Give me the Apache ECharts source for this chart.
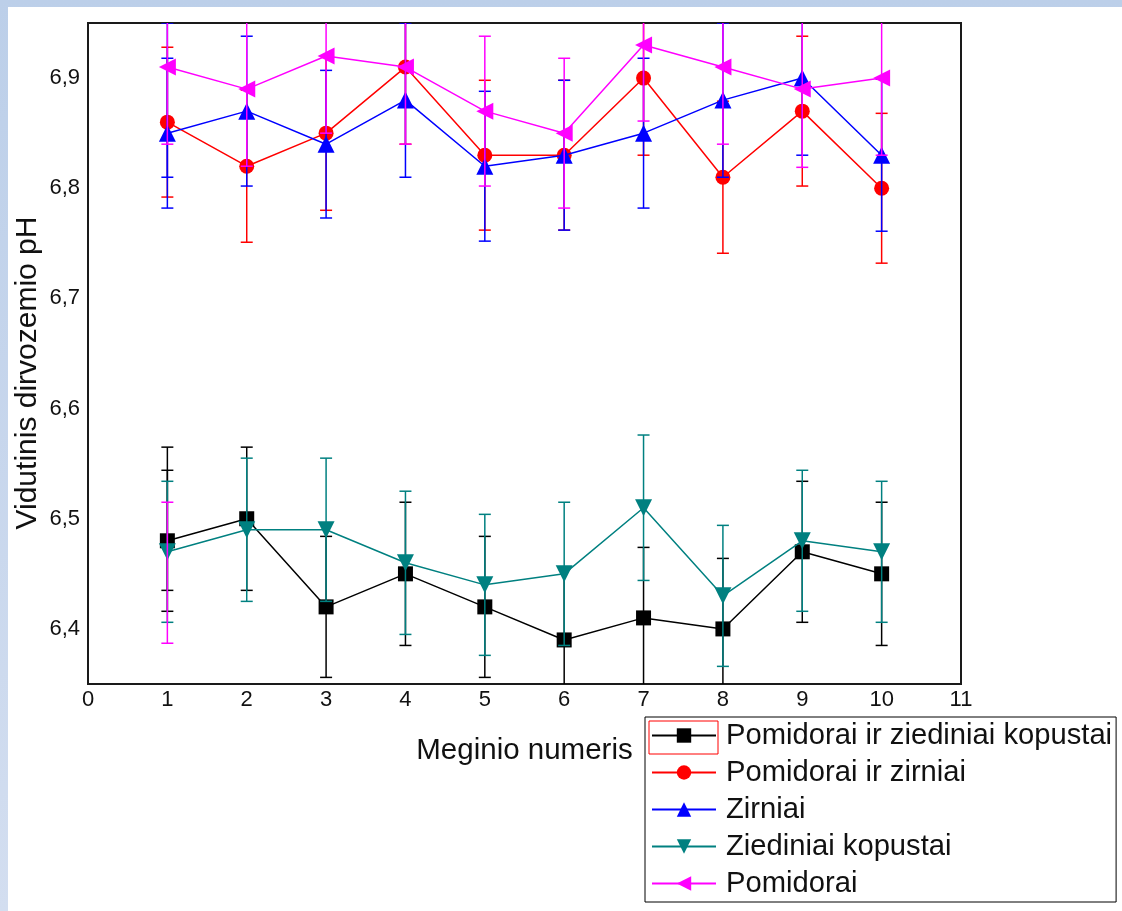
<!DOCTYPE html>
<html>
<head>
<meta charset="utf-8">
<script src="https://cdn.jsdelivr.net/npm/echarts@6/dist/echarts.min.js"></script>
<style>
  html, body { margin: 0; padding: 0; width: 1122px; height: 911px; overflow: hidden;
    background: linear-gradient(to bottom, #bccfe9 0%, #d3def0 100%); }
  #panel { position: absolute; left: 8px; top: 7px; width: 1114px; height: 904px; background: #ffffff; }
  #chart { position: absolute; left: 0; top: 0; width: 1122px; height: 911px; }
</style>
</head>
<body>
<div id="panel"></div>
<div id="chart"></div>
<script>
// ---- data ----
const sampleNumbers = [1, 2, 3, 4, 5, 6, 7, 8, 9, 10];
const xTickLabels = ['0', '1', '2', '3', '4', '5', '6', '7', '8', '9', '10', '11'];
const yTickValues = [6.4, 6.5, 6.6, 6.7, 6.8, 6.9];

const seriesNames = ['Pomidorai ir ziediniai kopustai', 'Pomidorai ir zirniai', 'Zirniai', 'Ziediniai kopustai', 'Pomidorai'];

const pomZiedKop = [6.48, 6.50, 6.42, 6.45, 6.42, 6.39, 6.41, 6.40, 6.47, 6.45];
const pomZiedKopErr = [0.064, 0.065, 0.064, 0.065, 0.064, 0.064, 0.064, 0.064, 0.064, 0.065];

const pomZirn = [6.86, 6.82, 6.85, 6.91, 6.83, 6.83, 6.90, 6.81, 6.87, 6.80];
const pomZirnErr = [0.068, 0.069, 0.070, 0.070, 0.068, 0.068, 0.070, 0.069, 0.068, 0.068];

const zirn = [6.85, 6.87, 6.84, 6.88, 6.82, 6.83, 6.85, 6.88, 6.90, 6.83];
const zirnErr = [0.068, 0.068, 0.067, 0.070, 0.068, 0.068, 0.068, 0.070, 0.070, 0.069];

const ziedKop = [6.47, 6.49, 6.49, 6.46, 6.44, 6.45, 6.51, 6.43, 6.48, 6.47];
const ziedKopErr = [0.064, 0.065, 0.065, 0.065, 0.064, 0.065, 0.066, 0.064, 0.064, 0.064];

const pom = [6.91, 6.89, 6.92, 6.91, 6.87, 6.85, 6.93, 6.91, 6.89, 6.90];
const pomErr = [0.070, 0.070, 0.070, 0.070, 0.068, 0.068, 0.069, 0.070, 0.071, 0.070];

// extra (detached) error bars visible at sample 1: [x, low, high]
const pomZiedKopExtraBars = [[1, 6.435, 6.565]];
const zirnExtraBars = [[1, 6.81, 6.95]];
const pomExtraBars = [[1, 6.387, 6.515]];

// ---- chart ----
const FONT = '"Liberation Sans", Arial, sans-serif';
const colors = ['#000000', '#ff0000', '#0000ff', '#008080', '#ff00ff'];
const symbols = ['rect', 'circle', 'triangle', 'triangle', 'triangle'];
const symbolRot = [0, 0, 0, 180, 90];
const symbolSizes = [15, 15, 17, 17, 17];
const values = [pomZiedKop, pomZirn, zirn, ziedKop, pom];
const errs = [pomZiedKopErr, pomZirnErr, zirnErr, ziedKopErr, pomErr];
const extras = [pomZiedKopExtraBars, [], zirnExtraBars, [], pomExtraBars];

function errBarData(vals, e, extra) {
  const d = sampleNumbers.map((x, i) => [x, vals[i] - e[i], vals[i] + e[i]]);
  return d.concat(extra);
}

function renderErr(color) {
  return function (params, api) {
    const x = api.value(0);
    const lo = api.coord([x, api.value(1)]);
    const hi = api.coord([x, api.value(2)]);
    const cw = 6;
    const style = { stroke: color, lineWidth: 1.5 };
    return {
      type: 'group',
      children: [
        { type: 'line', shape: { x1: lo[0], y1: lo[1], x2: hi[0], y2: hi[1] }, style },
        { type: 'line', shape: { x1: lo[0] - cw, y1: lo[1], x2: lo[0] + cw, y2: lo[1] }, style },
        { type: 'line', shape: { x1: hi[0] - cw, y1: hi[1], x2: hi[0] + cw, y2: hi[1] }, style }
      ]
    };
  };
}

const series = [];
for (let k = 0; k < 5; k++) {
  series.push({
    name: seriesNames[k] + ' err',
    type: 'custom',
    clip: true,
    renderItem: renderErr(colors[k]),
    encode: { x: 0, y: [1, 2] },
    data: errBarData(values[k], errs[k], extras[k]),
    z: 2 + k * 2,
    silent: true
  });
  series.push({
    name: seriesNames[k],
    type: 'line',
    data: sampleNumbers.map((x, i) => [x, values[k][i]]),
    symbol: symbols[k],
    symbolRotate: symbolRot[k],
    symbolSize: symbolSizes[k],
    showAllSymbol: true,
    lineStyle: { color: colors[k], width: 1.5 },
    itemStyle: { color: colors[k] },
    z: 3 + k * 2,
    animation: false
  });
}

const chart = echarts.init(document.getElementById('chart'), null, { renderer: 'canvas' });
chart.setOption({
  animation: false,
  backgroundColor: 'transparent',
  grid: { left: 88, top: 23, right: 161, bottom: 227, show: true, borderColor: '#1a1a1a', borderWidth: 2, backgroundColor: 'transparent' },
  xAxis: {
    type: 'value', min: 0, max: 11, interval: 1,
    axisLine: { show: false }, axisTick: { show: false }, splitLine: { show: false },
    axisLabel: { color: '#111', fontFamily: FONT, fontSize: 22, margin: 5,
      formatter: v => xTickLabels[Math.round(v)] },
    name: 'Meginio numeris', nameLocation: 'middle', nameGap: 52,
    nameTextStyle: { color: '#111', fontFamily: FONT, fontSize: 29.5 }
  },
  yAxis: {
    type: 'value', min: 6.35, max: 6.95, interval: 0.05,
    axisLine: { show: false }, axisTick: { show: false }, splitLine: { show: false },
    axisLabel: { color: '#111', fontFamily: FONT, fontSize: 22, margin: 8,
      formatter: v => {
        const t = yTickValues.find(tv => Math.abs(tv - v) < 1e-6);
        return t === undefined ? '' : t.toFixed(1).replace('.', ',');
      } }
  },
  legend: {
    data: seriesNames,
    orient: 'vertical',
    left: 645, top: 717,
    backgroundColor: '#ffffff',
    borderColor: '#000', borderWidth: 1,
    padding: [4, 4, 4, 6],
    itemWidth: 64, itemHeight: 18, itemGap: 8,
    textStyle: { color: '#111', fontFamily: FONT, fontSize: 29.2, padding: [0, 0, 0, 5] },
    selectedMode: false
  },
  graphic: [
    { type: 'text', x: 28, y: 373, rotation: Math.PI / 2,
      style: { text: 'Vidutinis dirvozemio pH', fill: '#111', font: '30px ' + FONT,
        textAlign: 'center', textVerticalAlign: 'middle' }, z: 100 },
    { type: 'rect', shape: { x: 649, y: 721, width: 69, height: 33 },
      style: { fill: 'none', stroke: '#ff0000', lineWidth: 1 }, z: 100 }
  ],
  series
});
</script>
</body>
</html>
